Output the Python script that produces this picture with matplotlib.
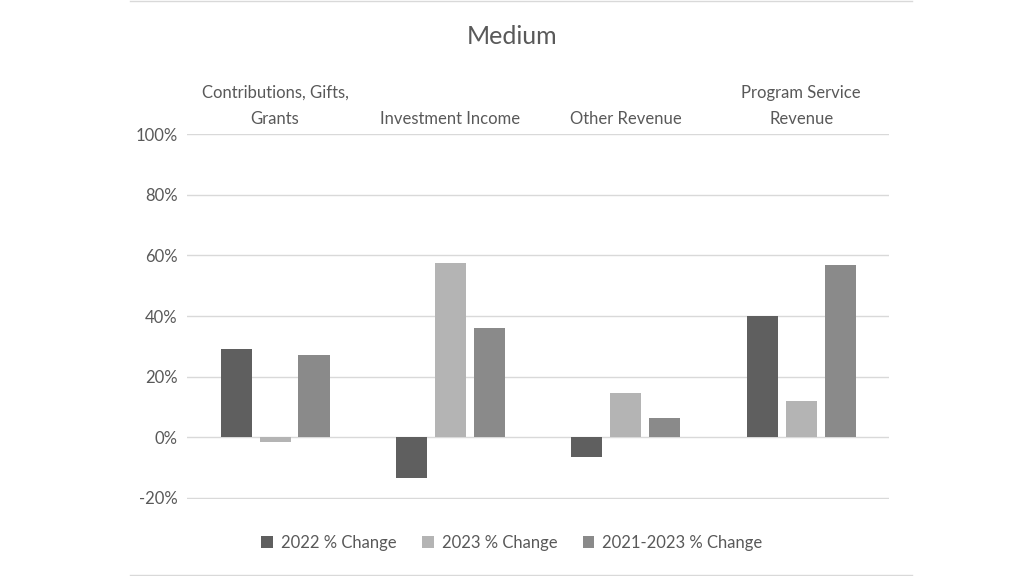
import matplotlib.pyplot as plt
import numpy as np
from matplotlib.lines import Line2D

categories = ['Contributions, Gifts,\nGrants', 'Investment Income', 'Other Revenue', 'Program Service\nRevenue']
series = ['2022 % Change', '2023 % Change', '2021-2023 % Change']
v2022 = [29, -13.5, -6.5, 40]
v2023 = [-1.5, 57.5, 14.5, 12]
v2123 = [27, 36, 6.5, 57]
colors = ['#5f5f5f', '#b4b4b4', '#8a8a8a']

plt.rcParams['font.family'] = ['Lato', 'DejaVu Sans']
fig = plt.figure(figsize=(10.24, 5.76), dpi=100)
ax = fig.add_axes([0.183, 0.134, 0.685, 0.633])

x = np.arange(len(categories))
w = 0.177
step = 0.222
for i, (vals, c, lab) in enumerate(zip([v2022, v2023, v2123], colors, series)):
    ax.bar(x + (i - 1) * step, vals, w, color=c, label=lab, zorder=3)

ax.set_xlim(-0.5, 3.5)
ax.set_ylim(-20.3, 100)
ax.set_yticks(range(-20, 101, 20))
ax.set_yticklabels([f'{t}%' for t in range(-20, 101, 20)], fontsize=12, color='#595959')
ax.yaxis.grid(True, color='#d9d9d9', linewidth=1, zorder=0)
for s in ax.spines.values():
    s.set_visible(False)
ax.tick_params(left=False, bottom=False, labelbottom=False)

for xi, cat in zip(x, categories):
    ax.text(xi, 102.5, cat, ha='center', va='bottom', fontsize=12, color='#595959',
            linespacing=1.75)

fig.text(0.5, 0.936, 'Medium', ha='center', va='center', fontsize=18, color='#595959')
fig.legend(loc='center', bbox_to_anchor=(0.5, 0.058), ncol=3, frameon=False,
           fontsize=12, labelcolor='#595959', handlelength=0.7, handleheight=0.7,
           columnspacing=1.5, handletextpad=0.5)

for yy in [0.998, 0.002]:
    fig.add_artist(Line2D([0.127, 0.891], [yy, yy], color='#d9d9d9', linewidth=1))

fig.savefig('out.png', dpi=100)
